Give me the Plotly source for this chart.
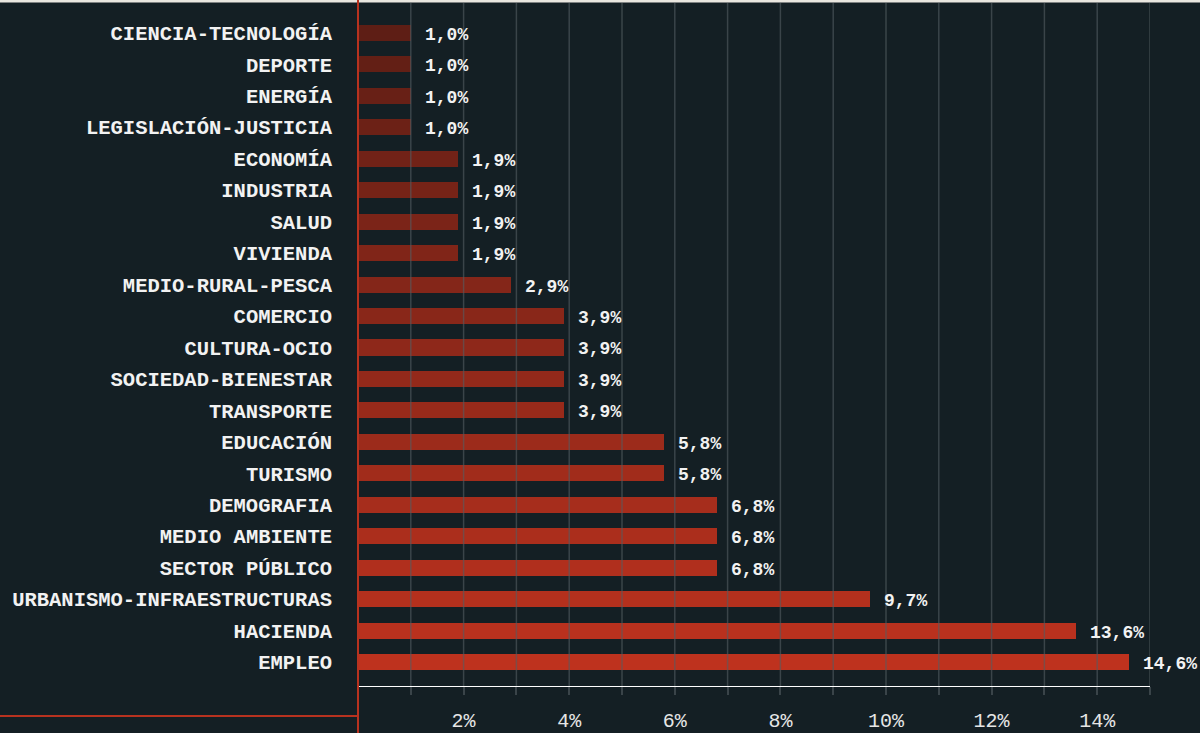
import plotly.graph_objects as go

categories = [
    "CIENCIA-TECNOLOGÍA", "DEPORTE", "ENERGÍA", "LEGISLACIÓN-JUSTICIA",
    "ECONOMÍA", "INDUSTRIA", "SALUD", "VIVIENDA", "MEDIO-RURAL-PESCA",
    "COMERCIO", "CULTURA-OCIO", "SOCIEDAD-BIENESTAR", "TRANSPORTE",
    "EDUCACIÓN", "TURISMO", "DEMOGRAFIA", "MEDIO AMBIENTE", "SECTOR PÚBLICO",
    "URBANISMO-INFRAESTRUCTURAS", "HACIENDA", "EMPLEO",
]
values = [1.0, 1.0, 1.0, 1.0, 1.9, 1.9, 1.9, 1.9, 2.9, 3.9, 3.9, 3.9, 3.9,
          5.8, 5.8, 6.8, 6.8, 6.8, 9.7, 13.6, 14.6]
x_tickvals = [2, 4, 6, 8, 10, 12, 14]
x_ticktext = ["2%", "4%", "6%", "8%", "10%", "12%", "14%"]
grid_vals = list(range(1, 16))

BG = "#141f24"
RED = "#b8321f"
GRID = "rgba(84,93,98,0.6)"
TICK = "#3a4449"
c0 = (0x5e, 0x1e, 0x15)
c1 = (0xbe, 0x32, 0x1e)
n = len(categories)
colors = []
for i in range(n):
    t = i / (n - 1)
    colors.append("rgb({},{},{})".format(*[round(a + (b - a) * t) for a, b in zip(c0, c1)]))

labels = [f"{v:.1f}".replace(".", ",") + "%" for v in values]

fig = go.Figure()
fig.add_trace(go.Bar(
    x=values, y=categories, orientation="h",
    marker=dict(color=colors, line=dict(width=0)),
    width=0.51, hoverinfo="skip",
))

for c, v, lab in zip(categories, values, labels):
    fig.add_annotation(x=v, y=c, text=lab, showarrow=False, xanchor="left",
                       yanchor="middle", xshift=12, yshift=-2,
                       font=dict(family="Liberation Mono", size=18, color="#f2f2f2",
                                 weight="bold"))

# gridlines above the bars
for g in grid_vals:
    fig.add_shape(type="line", xref="x", yref="paper", x0=g, x1=g, y0=0, y1=1,
                  line=dict(color=GRID, width=1.5), layer="above")

fig.update_layout(
    width=1200, height=733,
    paper_bgcolor=BG, plot_bgcolor=BG,
    margin=dict(l=358, r=50, t=3, b=47, autoexpand=False),
    showlegend=False,
    bargap=0,
    xaxis=dict(
        range=[0, 15], tickvals=x_tickvals, ticktext=x_ticktext,
        showgrid=False, automargin=False,
        ticks="outside", ticklen=8, tickcolor=TICK, tickwidth=1.5,
        minor=dict(dtick=1, tick0=0, showgrid=False,
                   ticks="outside", ticklen=8, tickcolor=TICK, tickwidth=1.5),
        showline=True, linecolor="#ffffff", linewidth=1,
        zeroline=False,
        tickfont=dict(family="Liberation Mono", size=20, color="#e6e6e6"),
        ticklabelstandoff=8,
        fixedrange=True,
    ),
    yaxis=dict(
        categoryorder="array", categoryarray=categories,
        range=[20.76, -0.95], showgrid=False, zeroline=False, showline=False,
        automargin=False,
        ticks="", ticklabelstandoff=25,
        tickfont=dict(family="Liberation Mono", size=20.5, color="#f2f2f2", weight="bold"),
        fixedrange=True,
    ),
)

# decorative frame lines
fig.add_shape(type="rect", xref="paper", yref="paper", x0=-358/792, x1=1 + 50/792,
              y0=1 + 0.5/683, y1=1 + 3/683, fillcolor="#e9e6df", line=dict(width=0),
              layer="above")
fig.add_shape(type="line", xref="paper", yref="paper", x0=0, x1=0,
              y0=-47/683, y1=1 + 3/683, line=dict(color=RED, width=2), layer="above")
fig.add_shape(type="line", xref="paper", yref="paper", x0=-358/792, x1=0,
              y0=-30/683, y1=-30/683, line=dict(color=RED, width=2), layer="above")

fig.write_html(
    "out.html",
    config={"displayModeBar": False},
    post_script=(
        "var s=document.documentElement.style;s.margin='0';s.padding='0';"
        "s.overflow='hidden';"
        "var b=document.body.style;b.margin='0';b.padding='0';b.overflow='hidden';"
    ),
)
